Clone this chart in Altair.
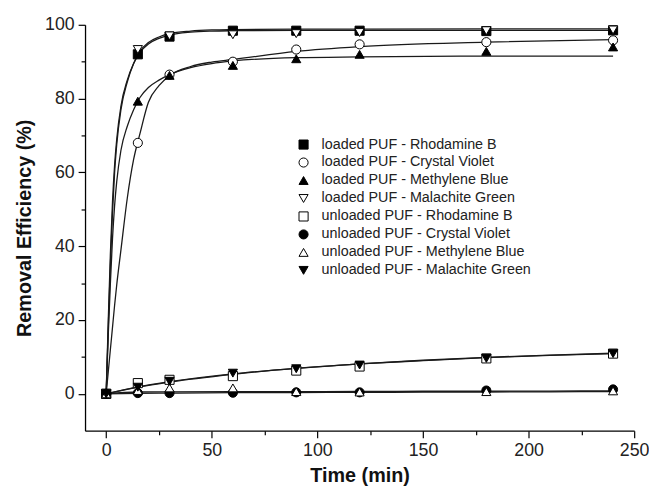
import altair as alt
import pandas as pd

# ---------------- data ----------------
times = [0, 15, 30, 60, 90, 120, 180, 240]

series_names = [
    "loaded PUF - Rhodamine B",
    "loaded PUF - Crystal Violet",
    "loaded PUF - Methylene Blue",
    "loaded PUF - Malachite Green",
    "unloaded PUF - Rhodamine B",
    "unloaded PUF - Crystal Violet",
    "unloaded PUF - Methylene Blue",
    "unloaded PUF - Malachite Green",
]

loaded_rb = [0, 92.0, 96.8, 98.4, 98.4, 98.4, 98.3, 98.5]
loaded_cv = [0, 68.0, 86.5, 90.0, 93.3, 94.7, 95.3, 95.8]
loaded_mb = [0, 79.3, 86.3, 89.0, 90.8, 92.0, 92.8, 94.0]
loaded_mg = [0, 93.3, 97.0, 97.3, 97.6, 97.9, 98.4, 98.6]
unloaded_rb = [0, 2.9, 3.8, 4.8, 6.3, 7.4, 9.6, 10.9]
unloaded_cv = [0, 0.2, 0.2, 0.3, 0.4, 0.4, 0.9, 1.2]
unloaded_mb = [0, 0.9, 1.6, 1.6, 0.6, 0.5, 0.6, 0.8]
unloaded_mg = [0, 1.8, 3.4, 5.6, 6.8, 7.8, 9.6, 10.9]

series_values = [loaded_rb, loaded_cv, loaded_mb, loaded_mg,
                 unloaded_rb, unloaded_cv, unloaded_mb, unloaded_mg]

shapes = ["square", "circle", "triangle-up", "triangle-down",
          "square", "circle", "triangle-up", "triangle-down"]
fills = ["black", "white", "black", "white", "white", "black", "white", "black"]
strokes = ["black"] * 8

# fitted curves
fit_t_loaded = [0, 1, 2, 3, 4, 5, 7, 10, 13, 16, 20, 25, 30, 40, 50, 60, 90, 120, 180, 240]
fit_rb = [0, 20, 38, 52, 62, 69, 78, 85, 89.5, 92.5, 94.8, 96.3, 97.2, 98.0, 98.3, 98.4, 98.5, 98.5, 98.5, 98.5]
fit_mg = [0, 18, 35, 49, 60, 67.5, 77, 84.5, 89.5, 92.8, 95.2, 96.7, 97.6, 98.3, 98.6, 98.7, 98.8, 98.8, 98.9, 98.9]
fit_mb = [0, 16, 30, 42, 51, 57.5, 66, 72.5, 77, 80.3, 83, 85, 86.5, 88.4, 89.5, 90.2, 91.1, 91.3, 91.5, 91.5]
fit_cv = [0, 6, 12, 18, 24, 29.5, 39, 53, 63.5, 70.5, 79, 83.5, 86.2, 88.7, 89.9, 90.6, 92.8, 94.1, 95.3, 96.0]

fit_t_unloaded = [0, 15, 30, 60, 90, 120, 150, 180, 210, 240]
fit_u_rb = [0, 1.9, 3.3, 5.4, 6.9, 8.1, 9.0, 9.8, 10.4, 10.9]
fit_u_mg = [0, 1.8, 3.2, 5.3, 6.9, 8.1, 9.1, 9.9, 10.5, 11.0]
fit_u_cv = [0, 0.15, 0.2, 0.3, 0.35, 0.4, 0.45, 0.5, 0.55, 0.6]
fit_u_mb = [0, 0.5, 0.55, 0.6, 0.6, 0.65, 0.7, 0.7, 0.75, 0.8]

x_ticks = [0, 25, 50, 75, 100, 125, 150, 175, 200, 225, 250]
y_ticks = [0, 10, 20, 30, 40, 50, 60, 70, 80, 90, 100]

# ---------------- tables ----------------
rows = []
for name, vals in zip(series_names, series_values):
    for t, v in zip(times, vals):
        rows.append({"t": t, "value": v, "series": name})
points_df = pd.DataFrame(rows)

fit_rows = []
for key, tt, vv in [("rb", fit_t_loaded, fit_rb), ("mg", fit_t_loaded, fit_mg),
                    ("mb", fit_t_loaded, fit_mb), ("cv", fit_t_loaded, fit_cv),
                    ("urb", fit_t_unloaded, fit_u_rb), ("umg", fit_t_unloaded, fit_u_mg),
                    ("ucv", fit_t_unloaded, fit_u_cv), ("umb", fit_t_unloaded, fit_u_mb)]:
    for t, v in zip(tt, vv):
        fit_rows.append({"t": t, "value": v, "fit": key})
fit_df = pd.DataFrame(fit_rows)

FONT = "Liberation Sans"

x_scale = alt.Scale(domain=[-10, 250], nice=False, zero=False)
y_scale = alt.Scale(domain=[-10, 100], nice=False, zero=False)

x_axis = alt.Axis(
    values=x_ticks,
    labelExpr="datum.value % 50 === 0 ? datum.label : ''",
    tickSize={"condition": {"test": "datum.value % 50 === 0", "value": 7}, "value": 4},
    title="Time (min)",
    grid=False,
    labelFlush=False,
    labelOverlap=False,
)
y_axis = alt.Axis(
    values=y_ticks,
    labelExpr="datum.value % 20 === 0 ? datum.label : ''",
    tickSize={"condition": {"test": "datum.value % 20 === 0", "value": 7}, "value": 4},
    title="Removal Efficiency (%)",
    grid=False,
    labelFlush=False,
    labelOverlap=False,
)

lines = alt.Chart(fit_df).mark_line(
    color="#1a1a1a", strokeWidth=1.3, interpolate="monotone"
).encode(
    x=alt.X("t:Q", scale=x_scale, axis=x_axis),
    y=alt.Y("value:Q", scale=y_scale, axis=y_axis),
    detail="fit:N",
)

legend = alt.Legend(
    title=None,
    orient="none",
    legendX=214,
    legendY=114,
    labelFont=FONT,
    labelFontSize=14.5,
    labelColor="#222222",
    labelLimit=0,
    symbolStrokeColor="black",
    symbolStrokeWidth=1,
    symbolSize=85,
    rowPadding=3.2,
    labelOffset=11,
    padding=0,
)

pts = alt.Chart(points_df).mark_point(
    filled=True, strokeWidth=1, opacity=1, size=85
).encode(
    x=alt.X("t:Q", scale=x_scale),
    y=alt.Y("value:Q", scale=y_scale),
    shape=alt.Shape("series:N", scale=alt.Scale(domain=series_names, range=shapes), legend=legend),
    fill=alt.Fill("series:N", scale=alt.Scale(domain=series_names, range=fills), legend=legend),
    stroke=alt.Stroke("series:N", scale=alt.Scale(domain=series_names, range=strokes), legend=legend),
)

chart = alt.layer(lines, pts).properties(
    width=556,
    height=411,
    padding={"left": 78, "top": 14, "right": 15, "bottom": 57},
    autosize=alt.AutoSizeParams(type="none"),
).configure_view(
    stroke=None
).configure_axis(
    domainColor="black",
    domainWidth=1.3,
    tickColor="black",
    tickWidth=1.2,
    labelFont=FONT,
    labelFontSize=18,
    labelColor="#222222",
    labelPadding=4,
    titleFont=FONT,
    titleFontSize=20,
    titleFontWeight="bold",
    titleColor="#111111",
).configure_axisX(
    titlePadding=6,
).configure_axisY(
    titlePadding=10,
)

chart.save("out.html", embed_options={"renderer": "svg", "actions": False})
